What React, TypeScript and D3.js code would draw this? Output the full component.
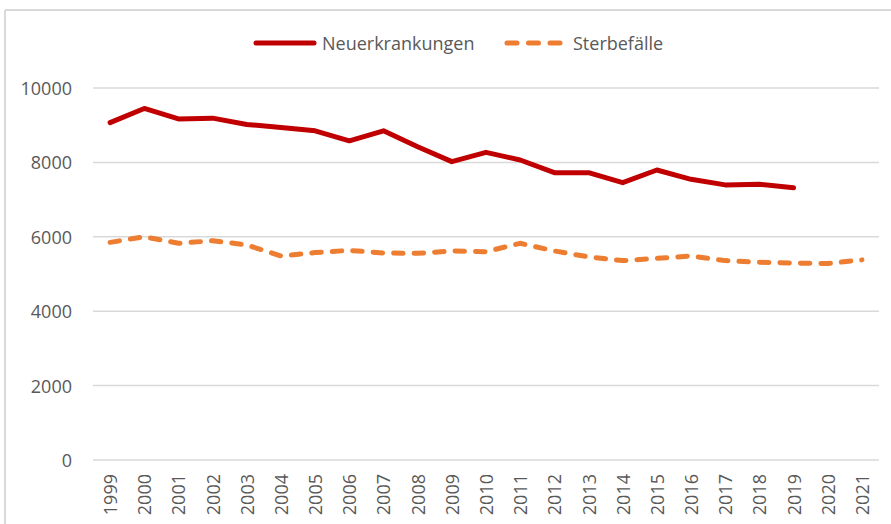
import React from "react";
import * as d3 from "d3";

const years: string[] = [
  "1999","2000","2001","2002","2003","2004","2005","2006","2007","2008","2009",
  "2010","2011","2012","2013","2014","2015","2016","2017","2018","2019","2020","2021",
];
const neuerkrankungen: (number | null)[] = [
  9070, 9450, 9170, 9190, 9020, 8940, 8850, 8580, 8850, 8420, 8020,
  8270, 8065, 7725, 7725, 7455, 7795, 7545, 7395, 7410, 7320, null, null,
];
const sterbefaelle: number[] = [
  5850, 6000, 5825, 5895, 5780, 5485, 5575, 5635, 5565, 5555, 5620,
  5600, 5825, 5620, 5460, 5360, 5420, 5485, 5360, 5315, 5295, 5280, 5380,
];
const yTicks: number[] = [0, 2000, 4000, 6000, 8000, 10000];
const seriesNames: string[] = ["Neuerkrankungen", "Sterbefälle"];
const colors: string[] = ["#C00000", "#ED7D31"];

const W = 891;
const H = 524;
const FONT = "'Open Sans', 'Liberation Sans', sans-serif";
const TEXT = "#595959";
const FS = 18;

export default function App() {
  const x = d3.scaleBand<string>().domain(years).range([93, 879]);
  const cx = (yr: string) => (x(yr) as number) + x.bandwidth() / 2;
  const y = d3.scaleLinear().domain([0, 10000]).range([460, 88]);

  const lineGen = d3
    .line<number | null>()
    .defined((d) => d !== null)
    .x((_, i) => cx(years[i]))
    .y((d) => y(d as number));

  return (
    <div style={{ position: "fixed", left: 0, top: 0, width: W, height: H, background: "#fff" }}>
      <svg width={W} height={H} style={{ display: "block" }}>
        <rect x={0} y={0} width={W} height={H} fill="#fff" />
        {/* frame */}
        <line x1={5} y1={10} x2={W} y2={10} stroke="#d9d9d9" strokeWidth={2} />
        <line x1={5} y1={10} x2={5} y2={H} stroke="#d9d9d9" strokeWidth={2} />

        {/* gridlines */}
        {yTicks.map((t) => (
          <g key={t}>
            <line x1={93} x2={879} y1={y(t)} y2={y(t)} stroke="#d9d9d9" strokeWidth={1.5} />
            <text
              x={72}
              y={y(t)}
              textAnchor="end"
              dominantBaseline="central"
              fontFamily={FONT}
              fontSize={FS}
              fill={TEXT}
            >
              {t}
            </text>
          </g>
        ))}

        {/* x labels */}
        {years.map((yr) => (
          <text
            key={yr}
            transform={`translate(${cx(yr)},474) rotate(-90)`}
            textAnchor="end"
            dominantBaseline="central"
            fontFamily={FONT}
            fontSize={FS}
            fill={TEXT}
          >
            {yr}
          </text>
        ))}

        {/* series */}
        <path
          d={lineGen(neuerkrankungen) || ""}
          fill="none"
          stroke={colors[0]}
          strokeWidth={5}
          strokeLinejoin="round"
          strokeLinecap="round"
        />
        <path
          d={lineGen(sterbefaelle) || ""}
          fill="none"
          stroke={colors[1]}
          strokeWidth={5}
          strokeLinejoin="round"
          strokeLinecap="round"
          strokeDasharray="9.5,11"
        />

        {/* legend */}
        <line x1={256} x2={314} y1={43} y2={43} stroke={colors[0]} strokeWidth={5} strokeLinecap="round" />
        <text x={322} y={43} dominantBaseline="central" fontFamily={FONT} fontSize={FS} fill={TEXT}>
          {seriesNames[0]}
        </text>
        <line
          x1={507}
          x2={560}
          y1={43}
          y2={43}
          stroke={colors[1]}
          strokeWidth={5}
          strokeLinecap="round"
          strokeDasharray="10,11.5"
        />
        <text x={573} y={43} dominantBaseline="central" fontFamily={FONT} fontSize={FS} fill={TEXT}>
          {seriesNames[1]}
        </text>
      </svg>
    </div>
  );
}
